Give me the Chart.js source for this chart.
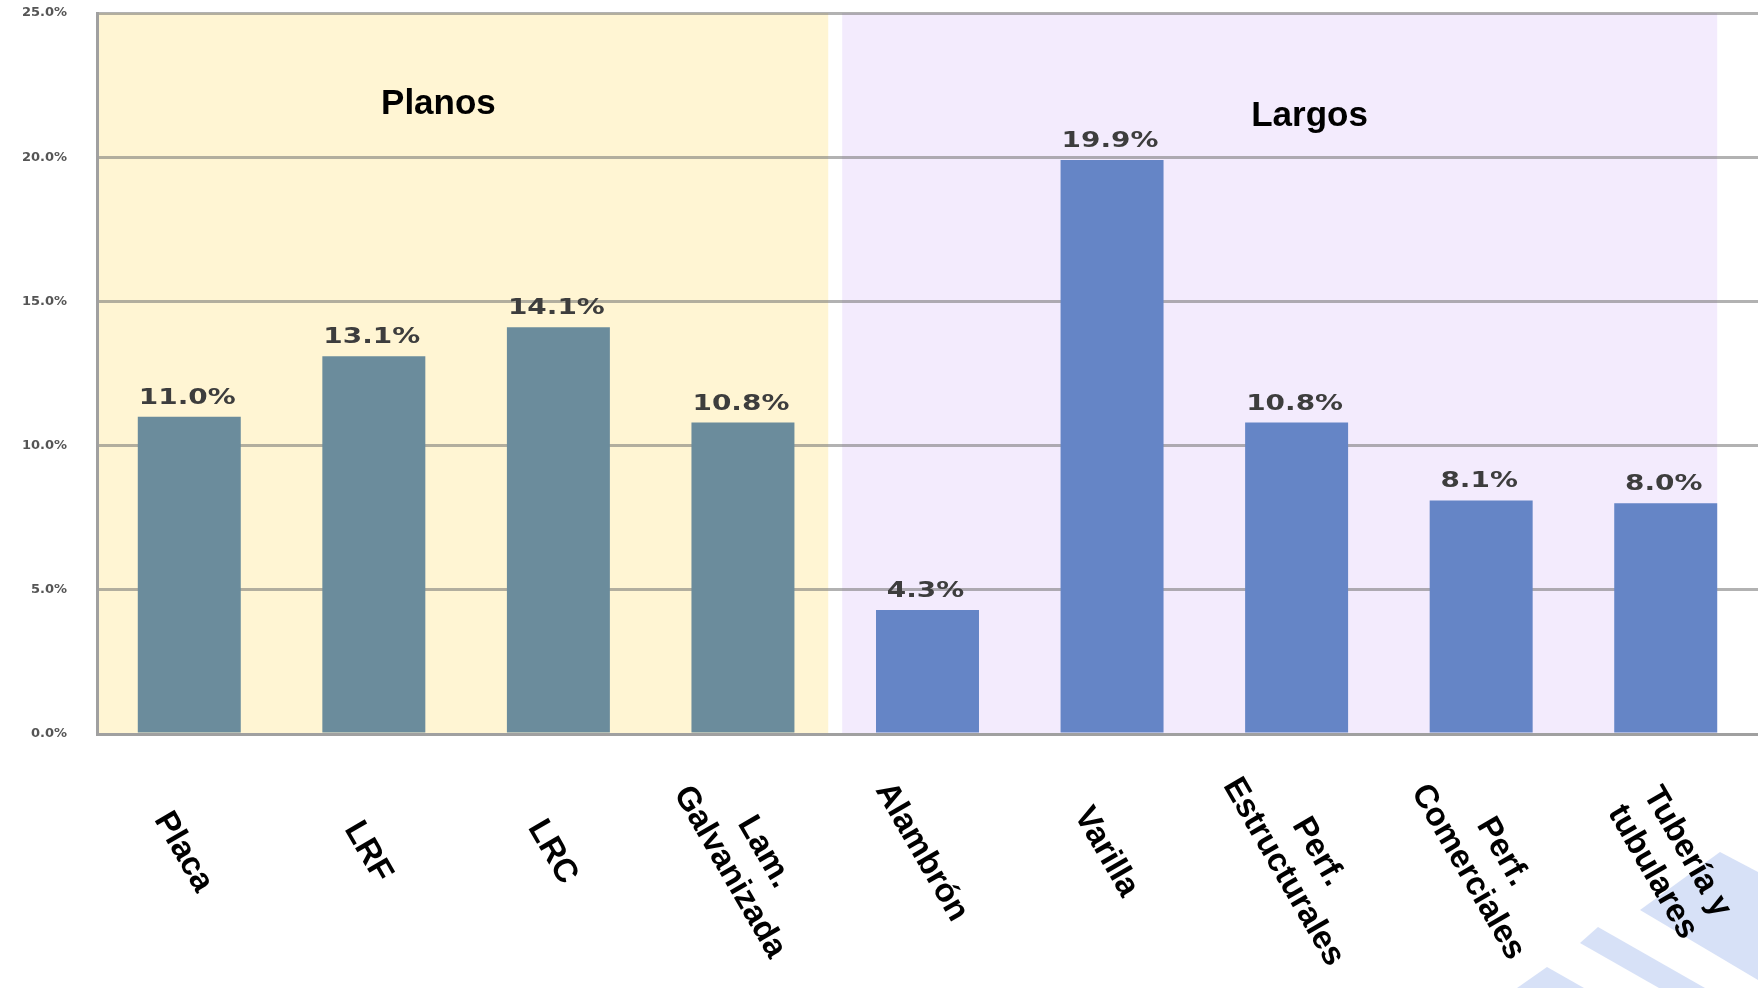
<!DOCTYPE html>
<html>
<head>
<meta charset="utf-8">
<script src="https://cdn.jsdelivr.net/npm/chart.js@4/dist/chart.umd.min.js"></script>
<style>
  html, body { margin: 0; padding: 0; background: #fff; }
</style>
</head>
<body>
<canvas id="chart" width="1758" height="988"></canvas>
<script>
// data
const categories = [["Placa"], ["LRF"], ["LRC"], ["Lam.", "Galvanizada"], ["Alambrón"], ["Varilla"], ["Perf.", "Estructurales"], ["Perf.", "Comerciales"], ["Tubería y", "tubulares"]];
const shares = [11.0, 13.1, 14.1, 10.8, 4.3, 19.9, 10.8, 8.1, 8.0];
const groupOf = ["Planos", "Planos", "Planos", "Planos", "Largos", "Largos", "Largos", "Largos", "Largos"];
const groupNames = ["Planos", "Largos"];
const yTicks = [0, 5, 10, 15, 20, 25];

const barColor = { Planos: "#6b8c9c", Largos: "#6585c6" };
const bandColor = { Planos: "#fff5d3", Largos: "#f3ebfd" };
// where the group titles sit (category index, value)
const titlePos = { Planos: [1.35, 21.85], Largos: [6.07, 21.4] };

function pxAt(xs, idx) {
  const i = Math.floor(idx), f = idx - i;
  const a = xs.getPixelForValue(i);
  if (f === 0) return a;
  return a + f * (xs.getPixelForValue(i + 1) - a);
}

const bands = {
  id: "bands",
  beforeDraw(chart) {
    const { ctx, chartArea: ca, scales: { x } } = chart;
    const bars = chart.getDatasetMeta(0).data;
    ctx.save();
    groupNames.forEach(g => {
      const first = groupOf.indexOf(g), last = groupOf.lastIndexOf(g);
      let left = first === 0 ? ca.left : (x.getPixelForValue(first - 1) + x.getPixelForValue(first)) / 2 + 7;
      let right = last === groupOf.length - 1 ? bars[last].x + bars[last].width / 2 : (x.getPixelForValue(last) + x.getPixelForValue(last + 1)) / 2 - 7;
      ctx.fillStyle = bandColor[g];
      ctx.fillRect(left, ca.top, right - left, ca.bottom - ca.top);
    });
    // faint watermark stripes, bottom right corner
    ctx.fillStyle = "rgba(175,195,240,0.5)";
    [
      [[1720, 852], [1758, 872], [1758, 980], [1640, 910]],
      [[1598, 927], [1705, 988], [1659, 988], [1580, 943]],
      [[1547, 967], [1584, 988], [1517, 988]]
    ].forEach(poly => {
      ctx.beginPath();
      poly.forEach((p, k) => k ? ctx.lineTo(p[0], p[1]) : ctx.moveTo(p[0], p[1]));
      ctx.closePath();
      ctx.fill();
    });
    ctx.restore();
  }
};

const decor = {
  id: "decor",
  afterDraw(chart) {
    const { ctx, scales: { x, y } } = chart;
    ctx.save();
    // value labels
    const bars = chart.getDatasetMeta(0).data;
    ctx.fillStyle = "#3d3d3d";
    ctx.font = "bold 22px 'DejaVu Sans'";
    ctx.textAlign = "center";
    ctx.textBaseline = "alphabetic";
    bars.forEach((b, i) => {
      ctx.save();
      ctx.translate(b.x - 2, b.y - 13);
      ctx.scale(1.27, 1);
      ctx.fillText(shares[i].toFixed(1) + "%", 0, 0);
      ctx.restore();
    });
    // group titles
    ctx.fillStyle = "#000";
    ctx.font = "bold 35px 'Liberation Sans'";
    ctx.textBaseline = "middle";
    groupNames.forEach(g => {
      const [ix, v] = titlePos[g];
      ctx.fillText(g, pxAt(x, ix), y.getPixelForValue(v));
    });
    // rotated category labels
    ctx.font = "bold 33px 'Liberation Sans'";
    const lineH = 40;
    categories.forEach((lines, i) => {
      ctx.save();
      ctx.translate(x.getPixelForValue(i) - 6 + (lines.length > 1 ? 10 : 0), 852 + (lines.length > 1 ? 10 : 0));
      ctx.rotate(Math.PI / 3);
      lines.forEach((t, k) => {
        ctx.fillText(t, 0, (k - (lines.length - 1) / 2) * lineH);
      });
      ctx.restore();
    });
    ctx.restore();
  }
};

new Chart("chart", {
  type: "bar",
  data: {
    labels: categories,
    datasets: [{
      data: shares,
      backgroundColor: groupOf.map(g => barColor[g]),
      borderWidth: 0,
      barPercentage: 0.558,
      categoryPercentage: 1
    }]
  },
  options: {
    responsive: false,
    animation: false,
    events: [],
    layout: { padding: { top: 13, right: 0, left: 0, bottom: 0 } },
    plugins: {
      legend: { display: false },
      tooltip: { enabled: false }
    },
    scales: {
      x: {
        grid: { display: false },
        border: { display: true, color: "#a0a0a0", width: 3 },
        ticks: { display: false },
        afterFit(scale) { scale.height = 254; }
      },
      y: {
        min: 0,
        max: 25,
        afterBuildTicks(scale) { scale.ticks = yTicks.map(v => ({ value: v })); },
        grid: { color: "rgba(115,115,115,0.55)", lineWidth: 3, drawTicks: false },
        border: { display: true, color: "#a0a0a0", width: 3 },
        ticks: {
          padding: 30,
          color: "#555",
          font: { family: "'DejaVu Sans'", size: 13, weight: "bold" },
          callback: v => v.toFixed(1) + "%"
        },
        afterFit(scale) {
          scale.width = 97;
          scale.paddingTop = 0;
          scale.paddingBottom = 0;
        }
      }
    }
  },
  plugins: [bands, decor]
});
</script>
</body>
</html>
